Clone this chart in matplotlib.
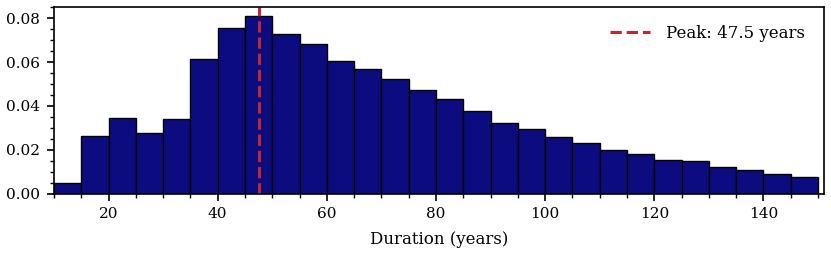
import numpy as np
import matplotlib
matplotlib.use('Agg')
import matplotlib.pyplot as plt
from matplotlib.ticker import MultipleLocator

# Histogram bins (years) and density heights
bin_edges = np.arange(10, 155, 5)
density = [0.0046, 0.0261, 0.0347, 0.0278, 0.0341, 0.0616, 0.0755, 0.0812,
           0.0728, 0.0685, 0.0603, 0.0567, 0.0523, 0.0472, 0.0430, 0.0376,
           0.0324, 0.0294, 0.0256, 0.0229, 0.0197, 0.0179, 0.0151, 0.0149,
           0.0122, 0.0107, 0.0089, 0.0077]
peak = 47.5

plt.rcParams['font.family'] = ['DejaVu Serif']

fig, ax = plt.subplots(figsize=(8.31, 2.58), dpi=100)

ax.bar(bin_edges[:-1], density, width=np.diff(bin_edges), align='edge',
       color='#0c0c80', edgecolor='black', linewidth=1)
ax.axvline(peak, color='#c0282d', linestyle='--', linewidth=2.2,
           label=f'Peak: {peak} years')

ax.set_xlim(10, 151)
ax.set_ylim(0, 0.0852)
ax.set_xlabel('Duration (years)', fontsize=12, labelpad=7)
ax.xaxis.set_major_locator(MultipleLocator(20))
ax.xaxis.set_minor_locator(MultipleLocator(5))
ax.yaxis.set_major_locator(MultipleLocator(0.02))
ax.yaxis.set_minor_locator(MultipleLocator(0.005))
ax.tick_params(labelsize=11)
ax.tick_params(which='major', length=5, width=1.2, pad=5)
ax.tick_params(which='minor', length=3, width=1)
for s in ax.spines.values():
    s.set_linewidth(1.2)

ax.legend(frameon=False, fontsize=12, loc='upper right', handlelength=2.4,
          handletextpad=1.0, borderaxespad=0.7)

plt.subplots_adjust(left=0.065, right=0.991, top=0.973, bottom=0.25)
plt.savefig('out.png', dpi=100)
